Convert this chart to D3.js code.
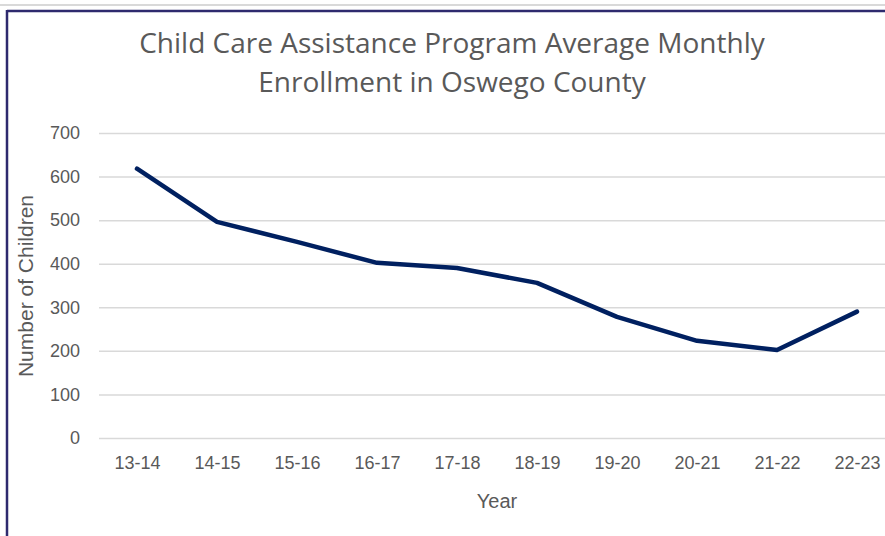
<!DOCTYPE html>
<html>
<head>
<meta charset="utf-8">
<script src="https://cdn.jsdelivr.net/npm/d3@7"></script>
<style>
body { margin: 0; background: #fff; }
text { fill: #595959; }
</style>
</head>
<body>
<script>
// Width and height
var w = 885;
var h = 536;

var years = ["13-14", "14-15", "15-16", "16-17", "17-18", "18-19", "19-20", "20-21", "21-22", "22-23"];
var enrollment = [618, 496, 450, 402, 390, 356, 278, 223, 202, 290];
var yTicks = [0, 100, 200, 300, 400, 500, 600, 700];

var svg = d3.select("body").append("svg")
    .attr("width", w)
    .attr("height", h);

// frame lines
svg.append("line").attr("x1", 0).attr("x2", w).attr("y1", 5).attr("y2", 5)
    .attr("stroke", "#d9d9d9").attr("stroke-width", 2);
svg.append("line").attr("x1", 7).attr("x2", w).attr("y1", 11).attr("y2", 11)
    .attr("stroke", "#2e2a6e").attr("stroke-width", 2.5);
svg.append("line").attr("x1", 7).attr("x2", 7).attr("y1", 10).attr("y2", h)
    .attr("stroke", "#2e2a6e").attr("stroke-width", 2.5);

var x = d3.scalePoint()
    .domain(years)
    .range([137, 857]);

var y = d3.scaleLinear()
    .domain([0, 700])
    .range([438, 133]);

// gridlines
svg.append("g")
    .attr("transform", "translate(99,0)")
    .call(d3.axisLeft(y).tickValues(yTicks).tickSize(-(w - 99)).tickFormat(""))
    .call(g => g.select(".domain").remove())
    .selectAll("line").attr("stroke", "#d9d9d9").attr("stroke-width", 1.5);

// y labels
svg.append("g")
    .attr("transform", "translate(80,0)")
    .call(d3.axisLeft(y).tickValues(yTicks).tickSize(0).tickPadding(0))
    .call(g => g.select(".domain").remove())
    .selectAll("text")
    .style("font-family", "'Liberation Sans', Arial, sans-serif")
    .style("font-size", "18px")
    .attr("fill", "#595959");

// x labels
svg.append("g")
    .attr("transform", "translate(0,452)")
    .call(d3.axisBottom(x).tickSize(0).tickPadding(4))
    .call(g => g.select(".domain").remove())
    .selectAll("text")
    .style("font-family", "'Liberation Sans', Arial, sans-serif")
    .style("font-size", "18px")
    .attr("fill", "#595959");

// the line
var line = d3.line()
    .x(function(d, i) { return x(years[i]); })
    .y(function(d) { return y(d); });

svg.append("path")
    .datum(enrollment)
    .attr("d", line)
    .attr("fill", "none")
    .attr("stroke", "#002060")
    .attr("stroke-width", 4.5)
    .attr("stroke-linejoin", "round")
    .attr("stroke-linecap", "round");

// title
svg.append("text")
    .attr("x", 452).attr("y", 53)
    .attr("text-anchor", "middle")
    .style("font-family", "'Open Sans', sans-serif")
    .style("font-size", "28px")
    .text("Child Care Assistance Program Average Monthly");
svg.append("text")
    .attr("x", 452).attr("y", 92)
    .attr("text-anchor", "middle")
    .style("font-family", "'Open Sans', sans-serif")
    .style("font-size", "28px")
    .text("Enrollment in Oswego County");

// axis titles
svg.append("text")
    .attr("x", 497).attr("y", 508)
    .attr("text-anchor", "middle")
    .style("font-family", "'Liberation Sans', Arial, sans-serif")
    .style("font-size", "20px")
    .text("Year");
svg.append("text")
    .attr("transform", "translate(33,286) rotate(-90)")
    .attr("text-anchor", "middle")
    .style("font-family", "'Liberation Sans', Arial, sans-serif")
    .style("font-size", "21px")
    .text("Number of Children");
</script>
</body>
</html>
